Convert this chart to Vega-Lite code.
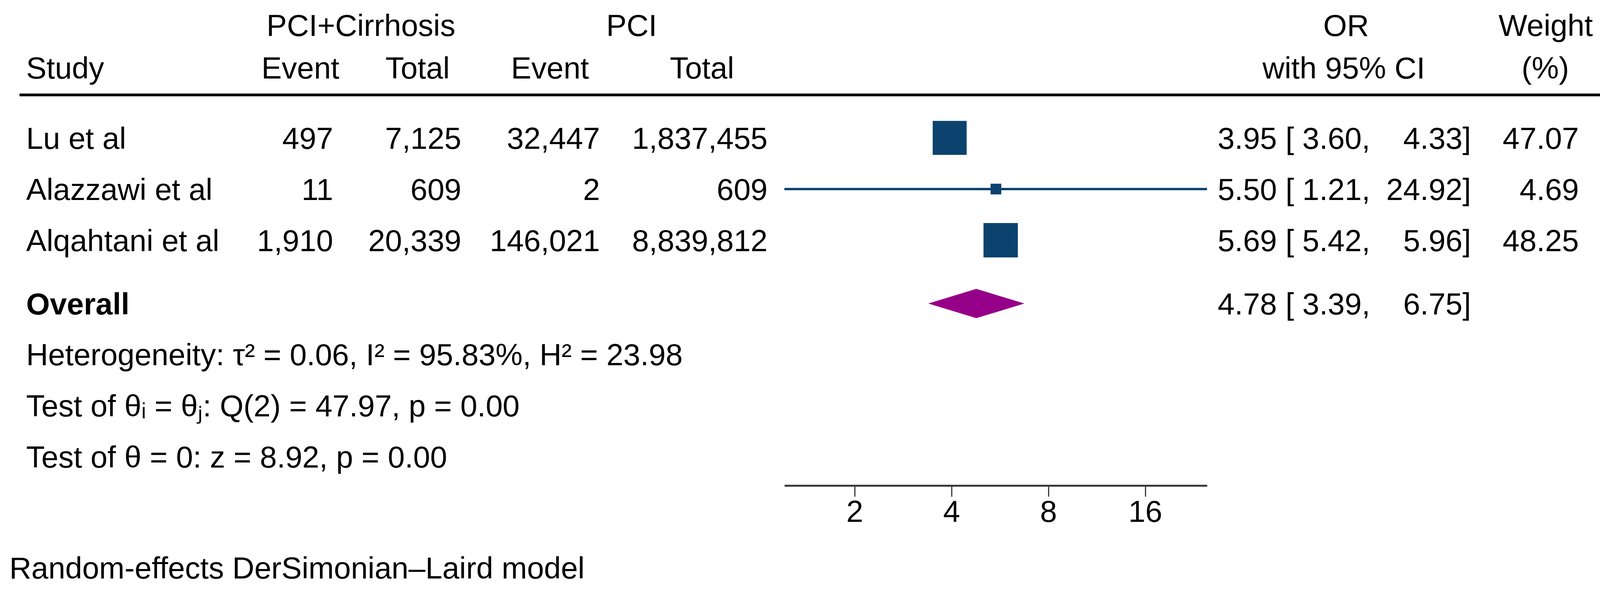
{
  "$schema": "https://vega.github.io/schema/vega-lite/v6.json",
  "width": 4151,
  "height": 1243,
  "padding": 0,
  "autosize": {"type": "pad"},
  "background": "white",
  "config": {
    "view": {"stroke": null},
    "text": {"font": "Liberation Sans", "fontSize": 78, "color": "#000000", "baseline": "middle", "dy": 5}
  },
  "title": {"text": "Random-effects DerSimonian–Laird model", "orient": "bottom", "anchor": "start", "frame": "group", "font": "Liberation Sans", "fontSize": 78, "fontWeight": "normal", "color": "#000000", "dx": 24, "offset": 68},
  "datasets": {
    "studies": [
      {"study": "Lu et al", "e1": 497, "t1": 7125, "e2": 32447, "t2": 1837455, "or": 3.95, "lo": 3.60, "hi": 4.33, "weight": 47.07},
      {"study": "Alazzawi et al", "e1": 11, "t1": 609, "e2": 2, "t2": 609, "or": 5.50, "lo": 1.21, "hi": 24.92, "weight": 4.69},
      {"study": "Alqahtani et al", "e1": 1910, "t1": 20339, "e2": 146021, "t2": 8839812, "or": 5.69, "lo": 5.42, "hi": 5.96, "weight": 48.25}
    ],
    "overall": [
      {"study": "Overall", "or": 4.78, "lo": 3.39, "hi": 6.75}
    ],
    "stats": [
      {"line": "het", "text": "Heterogeneity: τ² = 0.06, I² = 95.83%, H² = 23.98"},
      {"line": "qtest", "text": "Test of θᵢ = θⱼ: Q(2) = 47.97, p = 0.00"},
      {"line": "ztest", "text": "Test of θ = 0: z = 8.92, p = 0.00"}
    ]
  },
  "layer": [
    {
      "layer": [
        {
          "data": {"values": [{}]},
          "mark": {"type": "rule", "color": "#000000", "strokeWidth": 7, "yOffset": 21},
          "encoding": {
            "x": {"datum": 50, "type": "quantitative", "scale": {"domain": [0, 4151], "nice": false, "zero": false}, "axis": null},
            "x2": {"datum": 4113},
            "y": {"datum": "hdr2", "type": "nominal", "scale": {"type": "point", "domain": ["hdr1", "hdr2", "Lu et al", "Alazzawi et al", "Alqahtani et al", "Overall", "het", "qtest", "ztest"], "padding": 0.7443, "align": 0.4667}, "axis": null}
          }
        },
        {"data": {"values": [{}]}, "mark": {"type": "text", "align": "center", "text": "PCI+Cirrhosis", "yOffset": -27},
         "encoding": {"x": {"datum": 924, "type": "quantitative", "axis": null}, "y": {"datum": "hdr1", "type": "nominal", "axis": null}}},
        {"data": {"values": [{}]}, "mark": {"type": "text", "align": "center", "text": "PCI", "yOffset": -27},
         "encoding": {"x": {"datum": 1617, "type": "quantitative", "axis": null}, "y": {"datum": "hdr1", "type": "nominal", "axis": null}}},
        {"data": {"values": [{}]}, "mark": {"type": "text", "align": "center", "text": "OR", "yOffset": -27},
         "encoding": {"x": {"datum": 3446, "type": "quantitative", "axis": null}, "y": {"datum": "hdr1", "type": "nominal", "axis": null}}},
        {"data": {"values": [{}]}, "mark": {"type": "text", "align": "center", "text": "Weight", "yOffset": -27},
         "encoding": {"x": {"datum": 3957, "type": "quantitative", "axis": null}, "y": {"datum": "hdr1", "type": "nominal", "axis": null}}},
        {"data": {"values": [{}]}, "mark": {"type": "text", "align": "left", "text": "Study", "yOffset": -49},
         "encoding": {"x": {"datum": 67, "type": "quantitative", "axis": null}, "y": {"datum": "hdr2", "type": "nominal", "axis": null}}},
        {"data": {"values": [{}]}, "mark": {"type": "text", "align": "center", "text": "Event", "yOffset": -49},
         "encoding": {"x": {"datum": 769, "type": "quantitative", "axis": null}, "y": {"datum": "hdr2", "type": "nominal", "axis": null}}},
        {"data": {"values": [{}]}, "mark": {"type": "text", "align": "center", "text": "Total", "yOffset": -49},
         "encoding": {"x": {"datum": 1069, "type": "quantitative", "axis": null}, "y": {"datum": "hdr2", "type": "nominal", "axis": null}}},
        {"data": {"values": [{}]}, "mark": {"type": "text", "align": "center", "text": "Event", "yOffset": -49},
         "encoding": {"x": {"datum": 1408, "type": "quantitative", "axis": null}, "y": {"datum": "hdr2", "type": "nominal", "axis": null}}},
        {"data": {"values": [{}]}, "mark": {"type": "text", "align": "center", "text": "Total", "yOffset": -49},
         "encoding": {"x": {"datum": 1797, "type": "quantitative", "axis": null}, "y": {"datum": "hdr2", "type": "nominal", "axis": null}}},
        {"data": {"values": [{}]}, "mark": {"type": "text", "align": "center", "text": "with 95% CI", "yOffset": -49},
         "encoding": {"x": {"datum": 3440, "type": "quantitative", "axis": null}, "y": {"datum": "hdr2", "type": "nominal", "axis": null}}},
        {"data": {"values": [{}]}, "mark": {"type": "text", "align": "center", "text": "(%)", "yOffset": -49},
         "encoding": {"x": {"datum": 3956, "type": "quantitative", "axis": null}, "y": {"datum": "hdr2", "type": "nominal", "axis": null}}},

        {"data": {"name": "studies"}, "mark": {"type": "text", "align": "left"},
         "encoding": {"x": {"datum": 67, "type": "quantitative", "axis": null}, "y": {"field": "study", "type": "nominal", "axis": null}, "text": {"field": "study", "type": "nominal"}}},
        {"data": {"name": "studies"}, "mark": {"type": "text", "align": "right"},
         "encoding": {"x": {"datum": 853, "type": "quantitative", "axis": null}, "y": {"field": "study", "type": "nominal", "axis": null}, "text": {"field": "e1", "type": "quantitative", "format": ",d"}}},
        {"data": {"name": "studies"}, "mark": {"type": "text", "align": "right"},
         "encoding": {"x": {"datum": 1181, "type": "quantitative", "axis": null}, "y": {"field": "study", "type": "nominal", "axis": null}, "text": {"field": "t1", "type": "quantitative", "format": ",d"}}},
        {"data": {"name": "studies"}, "mark": {"type": "text", "align": "right"},
         "encoding": {"x": {"datum": 1536, "type": "quantitative", "axis": null}, "y": {"field": "study", "type": "nominal", "axis": null}, "text": {"field": "e2", "type": "quantitative", "format": ",d"}}},
        {"data": {"name": "studies"}, "mark": {"type": "text", "align": "right"},
         "encoding": {"x": {"datum": 1965, "type": "quantitative", "axis": null}, "y": {"field": "study", "type": "nominal", "axis": null}, "text": {"field": "t2", "type": "quantitative", "format": ",d"}}},
        {"data": {"name": "studies"}, "mark": {"type": "text", "align": "right"},
         "encoding": {"x": {"datum": 3269, "type": "quantitative", "axis": null}, "y": {"field": "study", "type": "nominal", "axis": null}, "text": {"field": "or", "type": "quantitative", "format": ".2f"}}},
        {"data": {"name": "studies"}, "mark": {"type": "text", "align": "left", "text": "["},
         "encoding": {"x": {"datum": 3291, "type": "quantitative", "axis": null}, "y": {"field": "study", "type": "nominal", "axis": null}}},
        {"data": {"name": "studies"}, "mark": {"type": "text", "align": "left"},
         "encoding": {"x": {"datum": 3334, "type": "quantitative", "axis": null}, "y": {"field": "study", "type": "nominal", "axis": null}, "text": {"field": "lo", "type": "quantitative", "format": ".2f"}}},
        {"data": {"name": "studies"}, "mark": {"type": "text", "align": "left", "text": ","},
         "encoding": {"x": {"datum": 3486, "type": "quantitative", "axis": null}, "y": {"field": "study", "type": "nominal", "axis": null}}},
        {"data": {"name": "studies"}, "mark": {"type": "text", "align": "right"},
         "encoding": {"x": {"datum": 3744, "type": "quantitative", "axis": null}, "y": {"field": "study", "type": "nominal", "axis": null}, "text": {"field": "hi", "type": "quantitative", "format": ".2f"}}},
        {"data": {"name": "studies"}, "mark": {"type": "text", "align": "left", "text": "]"},
         "encoding": {"x": {"datum": 3744, "type": "quantitative", "axis": null}, "y": {"field": "study", "type": "nominal", "axis": null}}},
        {"data": {"name": "studies"}, "mark": {"type": "text", "align": "right"},
         "encoding": {"x": {"datum": 4042, "type": "quantitative", "axis": null}, "y": {"field": "study", "type": "nominal", "axis": null}, "text": {"field": "weight", "type": "quantitative", "format": ".2f"}}},

        {"data": {"name": "overall"}, "mark": {"type": "text", "align": "left", "fontWeight": "bold", "yOffset": 31},
         "encoding": {"x": {"datum": 67, "type": "quantitative", "axis": null}, "y": {"field": "study", "type": "nominal", "axis": null}, "text": {"field": "study", "type": "nominal"}}},
        {"data": {"name": "overall"}, "mark": {"type": "text", "align": "right", "yOffset": 31},
         "encoding": {"x": {"datum": 3269, "type": "quantitative", "axis": null}, "y": {"field": "study", "type": "nominal", "axis": null}, "text": {"field": "or", "type": "quantitative", "format": ".2f"}}},
        {"data": {"name": "overall"}, "mark": {"type": "text", "align": "left", "text": "[", "yOffset": 31},
         "encoding": {"x": {"datum": 3291, "type": "quantitative", "axis": null}, "y": {"field": "study", "type": "nominal", "axis": null}}},
        {"data": {"name": "overall"}, "mark": {"type": "text", "align": "left", "yOffset": 31},
         "encoding": {"x": {"datum": 3334, "type": "quantitative", "axis": null}, "y": {"field": "study", "type": "nominal", "axis": null}, "text": {"field": "lo", "type": "quantitative", "format": ".2f"}}},
        {"data": {"name": "overall"}, "mark": {"type": "text", "align": "left", "text": ",", "yOffset": 31},
         "encoding": {"x": {"datum": 3486, "type": "quantitative", "axis": null}, "y": {"field": "study", "type": "nominal", "axis": null}}},
        {"data": {"name": "overall"}, "mark": {"type": "text", "align": "right", "yOffset": 31},
         "encoding": {"x": {"datum": 3744, "type": "quantitative", "axis": null}, "y": {"field": "study", "type": "nominal", "axis": null}, "text": {"field": "hi", "type": "quantitative", "format": ".2f"}}},
        {"data": {"name": "overall"}, "mark": {"type": "text", "align": "left", "text": "]", "yOffset": 31},
         "encoding": {"x": {"datum": 3744, "type": "quantitative", "axis": null}, "y": {"field": "study", "type": "nominal", "axis": null}}},

        {"data": {"name": "stats"}, "mark": {"type": "text", "align": "left", "yOffset": 30},
         "encoding": {"x": {"datum": 67, "type": "quantitative", "axis": null}, "y": {"field": "line", "type": "nominal", "axis": null}, "text": {"field": "text", "type": "nominal"}}}
      ]
    },
    {
      "layer": [
        {
          "data": {"name": "studies"},
          "mark": {"type": "rule", "color": "#0B436E", "strokeWidth": 6},
          "encoding": {
            "x": {"field": "lo", "type": "quantitative",
                  "scale": {"type": "log", "base": 2, "domain": [1.21, 24.92], "range": [2008, 3090], "nice": false},
                  "axis": {"orient": "bottom", "values": [2, 4, 8, 16], "format": "d", "title": null, "grid": false,
                           "domainColor": "#3a3a3a", "domainWidth": 5, "domainCap": "butt",
                           "tickColor": "#3a3a3a", "tickWidth": 3, "tickSize": 28,
                           "labelFont": "Liberation Sans", "labelFontSize": 78, "labelColor": "#000000",
                           "labelPadding": 2, "labelFlush": false, "labelOverlap": false}},
            "x2": {"field": "hi"},
            "y": {"field": "study", "type": "nominal", "axis": null}
          }
        },
        {
          "data": {"name": "studies"},
          "mark": {"type": "square", "color": "#0B436E", "opacity": 1, "filled": true},
          "encoding": {
            "x": {"field": "or", "type": "quantitative"},
            "y": {"field": "study", "type": "nominal", "axis": null},
            "size": {"field": "weight", "type": "quantitative", "scale": {"domain": [0, 48.25], "range": [0, 7744]}, "legend": null}
          }
        },
        {
          "data": {"name": "overall"},
          "mark": {"type": "point", "shape": "M -1 0 L 0 -0.305 L 1 0 L 0 0.305 Z", "size": 60516, "filled": true, "color": "#960088", "opacity": 1, "strokeWidth": 0, "yOffset": 31},
          "encoding": {
            "x": {"field": "or", "type": "quantitative"},
            "y": {"field": "study", "type": "nominal", "axis": null}
          }
        }
      ]
    }
  ],
  "resolve": {"scale": {"x": "independent"}}
}
